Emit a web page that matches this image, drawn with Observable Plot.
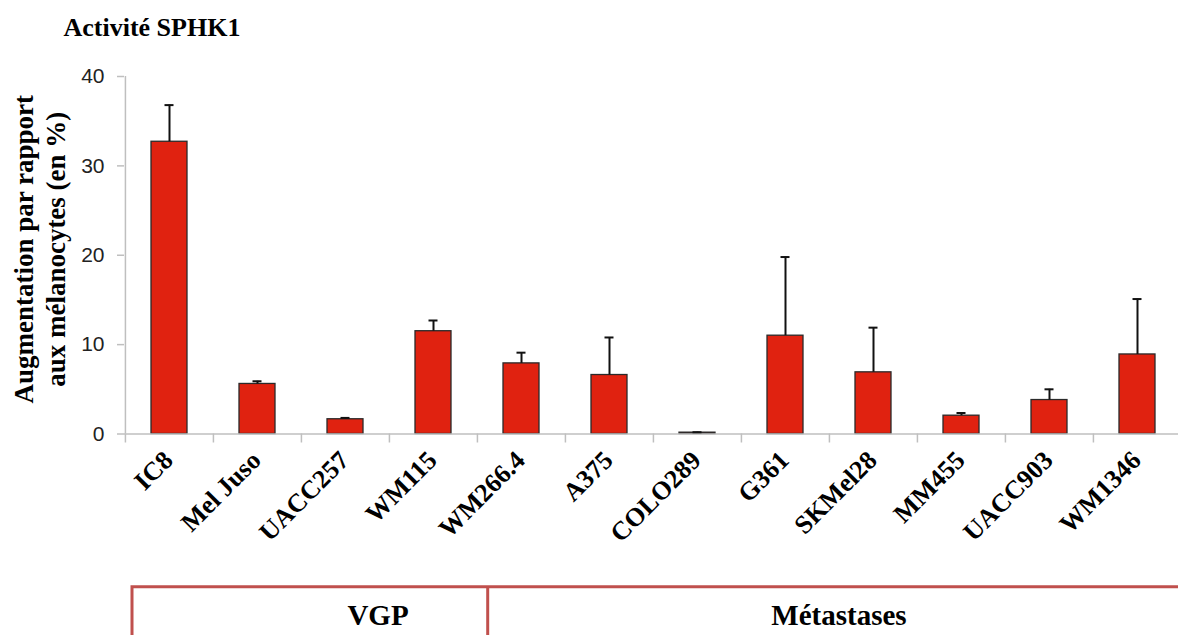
<!DOCTYPE html>
<html><head><meta charset="utf-8">
<script src="https://cdn.jsdelivr.net/npm/d3@7"></script>
<script src="https://cdn.jsdelivr.net/npm/@observablehq/plot@0.6"></script>
<style>
body{margin:0;background:#fff;}
#chart{position:relative;width:1178px;height:635px;overflow:hidden;}
</style></head><body><div id="chart"></div>
<script>
const cellLines = ["IC8","Mel Juso","UACC257","WM115","WM266.4","A375","COLO289","G361","SKMel28","MM455","UACC903","WM1346"];
const activity = [32.7,5.6,1.65,11.5,7.9,6.6,0.15,11.0,6.9,2.05,3.8,8.9];
const errorTop = [36.8,5.9,1.8,12.7,9.1,10.8,0.2,19.8,11.9,2.35,5.0,15.1];
const yTicks = [0,10,20,30,40];
const title = "Activité SPHK1";
const yLabel = ["Augmentation par rapport","aux mélanocytes (en %)"];
const groups = ["VGP","Métastases"];

const data = cellLines.map((name,i)=>({name, value: activity[i], upper: errorTop[i]}));
const serif = "'Liberation Serif','Times New Roman',serif";
const axisGray = "#bfbfbf";

const plot = Plot.plot({
  width:1178, height:635,
  marginLeft:124, marginTop:76, marginBottom:201.5, marginRight:0,
  x:{domain: cellLines, range:[124,1182], padding:0, axis:null},
  y:{domain:[0,40], range:[433.5,76], axis:null},
  style:{background:"#fff", overflow:"visible"},
  marks:[
    Plot.ruleX([cellLines[0]],{x:d=>d, dx:-44.08, y1:0, y2:40, stroke:axisGray, strokeWidth:1.5}),
    Plot.axisX({tickSize:9, tickFormat:()=>"", dx:-44.08, stroke:axisGray, strokeWidth:1.5, label:null}),
    Plot.axisY({ticks:yTicks, tickSize:7, tickPadding:13, stroke:axisGray, strokeWidth:1.5, fontSize:21, fontFamily:"Arial, 'Liberation Sans', sans-serif", fill:"#222", label:null}),
    Plot.barY(data,{x:"name",y:"value",fill:"#e02210",stroke:"#2a2a2a",strokeWidth:1.3,insetLeft:26,insetRight:26}),
    Plot.ruleY([0],{stroke:axisGray,strokeWidth:1.5}),
    Plot.ruleX(data,{x:"name",y1:"value",y2:"upper",stroke:"#111",strokeWidth:2}),
    Plot.tickY(data,{x:"name",y:"upper",stroke:"#111",strokeWidth:2,insetLeft:39.5,insetRight:39.5}),
    Plot.text(data,{x:"name", y:0, text:"name", rotate:-45, textAnchor:"end", lineAnchor:"middle", dx:-1, dy:22, fontSize:26, fontWeight:"bold", fontFamily:serif, fill:"#000"}),
    Plot.text([yLabel.join("\n")],{frameAnchor:"left", rotate:-90, dx:-86, dy:-6, lineHeight:1.2, fontSize:27, fontWeight:"bold", fontFamily:serif, textAnchor:"middle", lineAnchor:"middle", fill:"#000"}),
    Plot.text([title],{frameAnchor:"top-left", dx:-61, dy:-41, textAnchor:"start", lineAnchor:"bottom", fontSize:26, fontWeight:"bold", fontFamily:serif, fill:"#000"})
  ]
});
document.getElementById("chart").appendChild(plot);

// group annotation box (VGP / Métastases)
const svg = d3.select(plot);
const boxColor = "#c0504d";
const g = svg.append("g").attr("stroke", boxColor).attr("stroke-width", 3).attr("fill", "none");
g.append("path").attr("d", "M132,640V586.7H1190");
g.append("line").attr("x1", 487.7).attr("x2", 487.7).attr("y1", 586.7).attr("y2", 640);
const groupCenters = [378, 839];
svg.append("g").selectAll("text").data(groups).join("text")
  .attr("x", (d,i)=>groupCenters[i]).attr("y", 625)
  .attr("text-anchor","middle")
  .attr("font-family", serif).attr("font-weight","bold").attr("font-size", 29).attr("fill","#000")
  .text(d=>d);
</script>
</body></html>
